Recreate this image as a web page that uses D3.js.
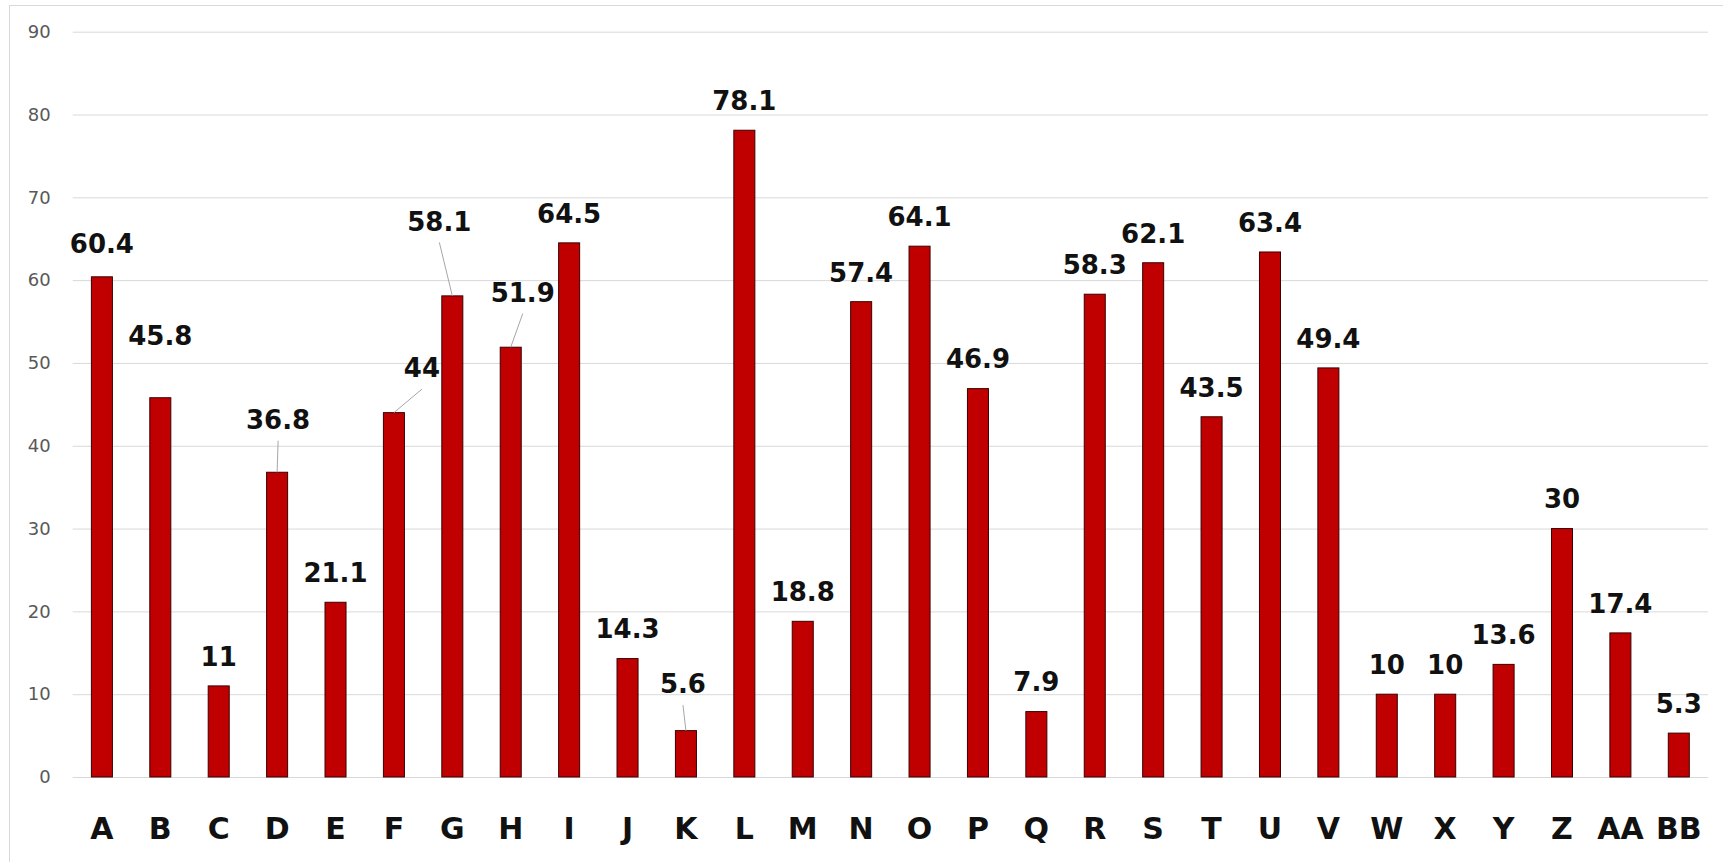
<!DOCTYPE html>
<html>
<head>
<meta charset="utf-8">
<script src="https://cdn.jsdelivr.net/npm/d3@7"></script>
<style>
  body { margin: 0; background: #fff; }
  .grid line { stroke: #d9d9d9; stroke-width: 1; }
  .grid .domain { display: none; }
  .y-axis text { font-family: "DejaVu Sans", sans-serif; font-size: 18px; fill: #595959; }
  .x-axis text { font-family: "DejaVu Sans", sans-serif; font-size: 30px; font-weight: bold; fill: #111; }
  .bar { fill: #c00000; stroke: #3a0000; stroke-width: 1; }
  .value-label { font-family: "DejaVu Sans", sans-serif; font-size: 26px; font-weight: bold; fill: #111; }
  .leader { stroke: #a6a6a6; stroke-width: 1; }
</style>
</head>
<body>
<div id="chart"></div>
<script>
// data
var categories = ['A', 'B', 'C', 'D', 'E', 'F', 'G', 'H', 'I', 'J', 'K', 'L', 'M', 'N',
                  'O', 'P', 'Q', 'R', 'S', 'T', 'U', 'V', 'W', 'X', 'Y', 'Z', 'AA', 'BB'];
var values = [60.4, 45.8, 11, 36.8, 21.1, 44, 58.1, 51.9, 64.5, 14.3, 5.6, 78.1, 18.8, 57.4,
              64.1, 46.9, 7.9, 58.3, 62.1, 43.5, 63.4, 49.4, 10, 10, 13.6, 30, 17.4, 5.3];
var yTicks = [0, 10, 20, 30, 40, 50, 60, 70, 80, 90];

// labels that were dragged away from the default spot (pixels)
var labelNudge = {
  A: {dx: 0, dy: -4},
  B: {dx: 0, dy: -33},
  D: {dx: 1, dy: -23, leader: true},
  F: {dx: 28, dy: -15, leader: true},
  G: {dx: -13, dy: -45, leader: true},
  H: {dx: 12, dy: -25, leader: true},
  K: {dx: -3, dy: -17, leader: true}
};

var W = 1723, H = 862,
    plot = {left: 72.7, right: 1708, top: 31.7, bottom: 777};

var svg = d3.select('#chart').append('svg')
    .attr('width', W)
    .attr('height', H);

// chart area border (only top and left show in frame)
svg.append('rect')
    .attr('x', 9.5).attr('y', 5.5)
    .attr('width', W + 20).attr('height', H + 20)
    .attr('fill', 'none')
    .attr('stroke', '#d9d9d9');

var x = d3.scaleBand()
    .domain(categories)
    .range([plot.left, plot.right])
    .paddingInner(0.64)
    .paddingOuter(0.32);

var y = d3.scaleLinear()
    .domain([0, 90])
    .range([plot.bottom, plot.top]);

// gridlines
svg.append('g')
    .attr('class', 'grid')
    .attr('transform', 'translate(' + plot.left + ',0)')
    .call(d3.axisLeft(y).tickValues(yTicks).tickSize(-(plot.right - plot.left)).tickFormat(''));

// y axis labels
svg.append('g')
    .attr('class', 'y-axis')
    .attr('transform', 'translate(' + plot.left + ',0)')
    .call(d3.axisLeft(y).tickValues(yTicks).tickSize(0).tickPadding(22))
    .call(function (g) { g.select('.domain').remove(); });

// x axis labels
svg.append('g')
    .attr('class', 'x-axis')
    .attr('transform', 'translate(0,' + plot.bottom + ')')
    .call(d3.axisBottom(x).tickSize(0))
    .call(function (g) { g.select('.domain').remove(); })
    .selectAll('text')
      .attr('y', 62)
      .attr('dy', null);

var data = categories.map(function (c, i) { return {cat: c, value: values[i]}; });

// bars
svg.selectAll('.bar')
    .data(data)
  .enter().append('rect')
    .attr('class', 'bar')
    .attr('x', function (d) { return x(d.cat); })
    .attr('width', x.bandwidth())
    .attr('y', function (d) { return y(d.value); })
    .attr('height', function (d) { return y(0) - y(d.value); });

function labelPos(d) {
  var n = labelNudge[d.cat] || {dx: 0, dy: 0};
  return {
    x: x(d.cat) + x.bandwidth() / 2 + n.dx,
    y: y(d.value) - 29.5 + n.dy
  };
}

// leader lines
svg.selectAll('.leader')
    .data(data.filter(function (d) { return labelNudge[d.cat] && labelNudge[d.cat].leader; }))
  .enter().append('line')
    .attr('class', 'leader')
    .attr('x1', function (d) { return labelPos(d).x; })
    .attr('y1', function (d) { return labelPos(d).y + 21; })
    .attr('x2', function (d) { return x(d.cat) + x.bandwidth() / 2; })
    .attr('y2', function (d) { return y(d.value); });

// value labels
svg.selectAll('.value-label')
    .data(data)
  .enter().append('text')
    .attr('class', 'value-label')
    .attr('text-anchor', 'middle')
    .attr('dy', '0.36em')
    .attr('x', function (d) { return labelPos(d).x; })
    .attr('y', function (d) { return labelPos(d).y; })
    .text(function (d) { return d.value; });
</script>
</body>
</html>
